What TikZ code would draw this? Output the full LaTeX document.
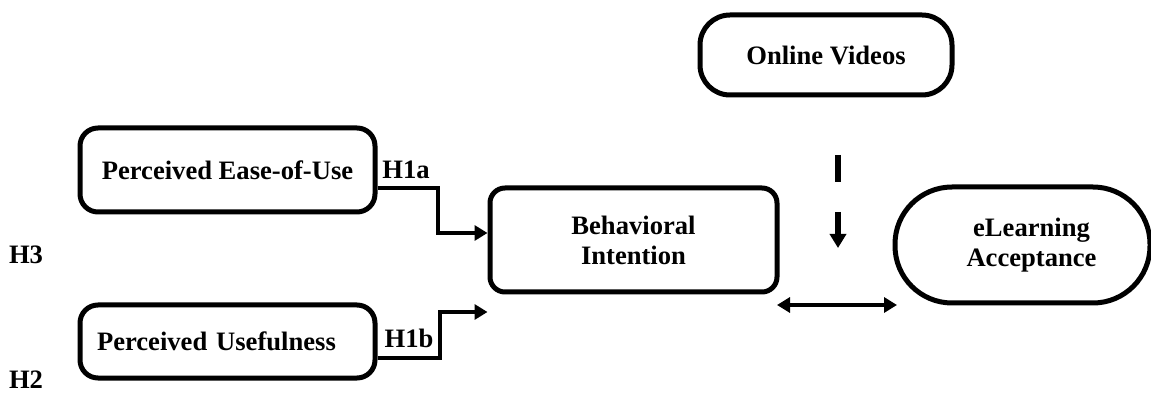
\documentclass[tikz,border=0pt]{standalone}
\usepackage{fontspec}
\setmainfont{Liberation Serif}
\usetikzlibrary{arrows.meta}
\begin{document}
\begin{tikzpicture}[x=0.5pt,y=-0.5pt,
 font=\fontsize{13.3}{15}\selectfont\bfseries,
 box/.style={draw,line width=2.5pt,rounded corners=9pt,align=center,inner sep=0pt},
 link/.style={line width=2pt,-{Triangle[length=6.5pt,width=7.5pt]}},
 hyp/.style={inner sep=0pt}]
 \useasboundingbox (0,0) rectangle (1151,395);
 \node[box,minimum width=147.5pt,minimum height=42pt] (peou) at (227.5,170) {Perceived Ease-of-Use};
 \node[box,text width=130.5pt,inner xsep=8.5pt,align=left,minimum height=36.5pt] (pu) at (227.5,341.5) {Perceived Usefulness};
 \node[box,minimum width=143.5pt,minimum height=52pt,rounded corners=7.5pt] (bi) at (633.5,240) {Behavioral\\Intention};
 \node[box,minimum width=126pt,minimum height=40pt,rounded corners=15pt] (ov) at (826,55) {Online Videos};
 \node[box,minimum width=127.5pt,minimum height=58pt,rounded corners=28.5pt] (ela) at (1022.5,245) {\hspace*{9pt}eLearning\\\hspace*{9pt}Acceptance};
 \node[hyp] (h1a) at (406,170) {H1a};
 \node[hyp] (h1b) at (409,338) {H1b};
 \node[hyp] (h3) at (26,255) {H3};
 \node[hyp] (h2) at (26,380) {H2};
 \coordinate (modtop) at (838,155);
 \coordinate (modend) at (838,248);
 \coordinate (bothl) at (777,305);
 \coordinate (bothr) at (897,305);
 \draw[link] ([yshift=-9pt]peou.east) -| ([xshift=-25pt,yshift=3.5pt]bi.west) -- ([yshift=3.5pt]bi.west);
 \draw[link] ([yshift=-8.25pt]pu.east) -| ([xshift=-24pt,yshift=-36pt]bi.west) -- ([yshift=-36pt]bi.west);
 \draw[link,line width=2.75pt,dash pattern=on 13.5pt off 15pt,-{Triangle[length=7pt,width=8pt]}] (modtop) -- (modend);
 \draw[link,{Triangle[length=6.5pt,width=7.5pt]}-{Triangle[length=6.5pt,width=7.5pt]}] (bothl) -- (bothr);
\end{tikzpicture}
\end{document}
